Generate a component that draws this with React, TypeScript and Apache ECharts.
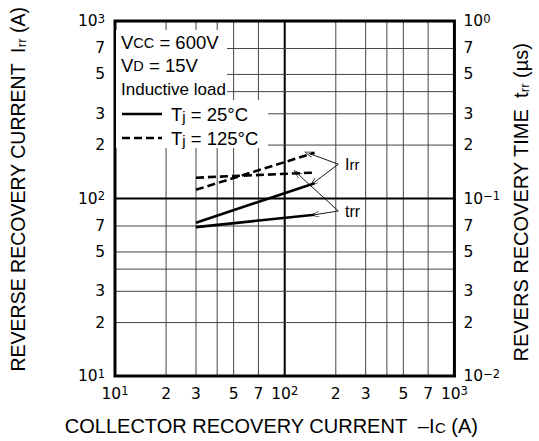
import React, { useEffect, useRef } from "react";
import * as echarts from "echarts";

// ---- data ----
const collectorCurrent = [30, 150]; // -Ic (A)
const irr25 = [73, 122]; // Irr (A), Tj = 25°C
const irr125 = [112, 181]; // Irr (A), Tj = 125°C
const trr25 = [0.069, 0.081]; // trr (µs), Tj = 25°C
const trr125 = [0.131, 0.14]; // trr (µs), Tj = 125°C

const xTicks = [10, 20, 30, 50, 70, 100, 200, 300, 500, 700, 1000];
const yLeftTicks = [10, 20, 30, 50, 70, 100, 200, 300, 500, 700, 1000];
const yRightTicks = [0.01, 0.02, 0.03, 0.05, 0.07, 0.1, 0.2, 0.3, 0.5, 0.7, 1];
const gridValues = [20, 30, 40, 50, 70, 100, 200, 300, 400, 500, 700];
const majorGrid = [100];
const axisRange = [10, 1000];

// annotation anchor points (data coordinates)
const irrLabelPt = [207, 156];
const irrArrowTargets = [
  [138, 180],
  [147, 122],
];
const trrLabelPt = [207, 0.085];
const trrArrowTargets = [
  [118, 0.139],
  [150, 0.081],
];

const FONT = "'Liberation Sans', Arial, Helvetica, sans-serif";
const NUMFONT = "'DejaVu Sans', 'Liberation Sans', sans-serif";

function tickLabel(v: number): string {
  const e = Math.log10(v);
  const r = Math.round(e);
  if (Math.abs(e - r) < 1e-6) {
    const s = r < 0 ? "\u2212" + Math.abs(r) : String(r);
    return "{n|10}{s|" + s + "}";
  }
  const m = Math.round(v / Math.pow(10, Math.floor(e)));
  return "{n|" + m + "}";
}

const richTick = {
  n: { fontSize: 15.5, lineHeight: 17, fontFamily: NUMFONT, color: "#000" },
  s: {
    fontSize: 11.5,
    lineHeight: 11,
    verticalAlign: "top" as const,
    fontFamily: NUMFONT,
    color: "#000",
  },
};

const CHEVRON = "path://M5,0 L10,14 L9,14.6 L5,2.6 L1,14.6 L0,14 Z";

export default function App() {
  const ref = useRef<HTMLDivElement>(null);

  useEffect(() => {
    if (!ref.current) return;
    const chart = echarts.init(ref.current, undefined, { renderer: "svg" });

    const gridStyle = (v: number) =>
      majorGrid.indexOf(v) >= 0
        ? { stroke: "#000", lineWidth: 2 }
        : { stroke: "#444", lineWidth: 1 };

    const arrowStyle = { color: "#000", width: 0.9, type: "solid" as const };
    const irrArrows = irrArrowTargets.map((t) => [
      { coord: irrLabelPt, symbol: "none" },
      { coord: t, symbol: CHEVRON, symbolSize: [6, 9] },
    ]);
    const trrArrows = trrArrowTargets.map((t) => [
      { coord: trrLabelPt, symbol: "none" },
      { coord: t, symbol: CHEVRON, symbolSize: [6, 9] },
    ]);

    const pairs = (ys: number[]) => collectorCurrent.map((x, i) => [x, ys[i]]);
    const gridData = gridValues.map((v) => [v, v]);

    const option: any = {
      animation: false,
      backgroundColor: "#fff",
      textStyle: { fontFamily: FONT },
      grid: {
        left: 110,
        right: 75,
        top: 21,
        bottom: 65,
        show: true,
        borderColor: "#000",
        borderWidth: 3,
        backgroundColor: "transparent",
        z: 10,
      },
      xAxis: {
        type: "log",
        logBase: 10,
        min: 10,
        max: 1000,
        axisLine: { show: false },
        axisTick: { show: false },
        splitLine: { show: false },
        minorTick: { show: false },
        axisLabel: {
          customValues: xTicks,
          formatter: (v: number) => tickLabel(v),
          rich: richTick,
          margin: 9,
          hideOverlap: false,
        },
        name: "{t|COLLECTOR RECOVERY CURRENT  \u2013I}{sc|C}{t| (A)}",
        nameLocation: "middle",
        nameGap: 40,
        nameTextStyle: {
          padding: [0, 27, 0, 0],
          rich: {
            t: { fontSize: 20, fontFamily: FONT, color: "#000", verticalAlign: "bottom" },
            sc: { fontSize: 15, fontFamily: FONT, color: "#000", verticalAlign: "bottom", padding: [0, 0, 1, 0] },
          },
        },
      },
      yAxis: [
        {
          type: "log",
          logBase: 10,
          min: 10,
          max: 1000,
          position: "left",
          axisLine: { show: false },
          axisTick: { show: false },
          splitLine: { show: false },
          axisLabel: {
            customValues: yLeftTicks,
            formatter: (v: number) => tickLabel(v),
            rich: richTick,
            margin: 10,
            hideOverlap: false,
          },
          name: "{t|REVERSE RECOVERY CURRENT  I}{s|rr}{t| (A)}",
          nameLocation: "middle",
          nameRotate: 90,
          nameGap: 87,
          nameTextStyle: {
            padding: [0, 0, 0, 18],
            rich: {
              t: { fontSize: 19.5, fontFamily: FONT, color: "#000", verticalAlign: "bottom" },
              s: { fontSize: 13, fontFamily: FONT, color: "#000", verticalAlign: "bottom" },
            },
          },
        },
        {
          type: "log",
          logBase: 10,
          min: 0.01,
          max: 1,
          position: "right",
          axisLine: { show: false },
          axisTick: { show: false },
          splitLine: { show: false },
          axisLabel: {
            customValues: yRightTicks,
            formatter: (v: number) => tickLabel(v),
            rich: richTick,
            margin: 9,
            hideOverlap: false,
          },
          name: "{t|REVERS RECOVERY TIME  t}{s|rr}{t| (\u00b5s)}",
          nameLocation: "middle",
          nameRotate: 90,
          nameGap: 55,
          nameTextStyle: {
            padding: [0, 8, 0, 0],
            rich: {
              t: { fontSize: 20, fontFamily: FONT, color: "#000", verticalAlign: "bottom" },
              s: { fontSize: 13, fontFamily: FONT, color: "#000", verticalAlign: "bottom" },
            },
          },
        },
      ],
      series: [
        {
          name: "grid-v",
          type: "custom",
          yAxisIndex: 0,
          data: gridData,
          z: 1,
          silent: true,
          clip: false,
          renderItem: (params: any, api: any) => {
            const v = api.value(0);
            const p1 = api.coord([v, axisRange[0]]);
            const p2 = api.coord([v, axisRange[1]]);
            return {
              type: "line",
              shape: { x1: p1[0], y1: p1[1], x2: p2[0], y2: p2[1] },
              style: gridStyle(v),
            };
          },
        },
        {
          name: "grid-h",
          type: "custom",
          yAxisIndex: 0,
          data: gridData,
          z: 1,
          silent: true,
          clip: false,
          renderItem: (params: any, api: any) => {
            const v = api.value(1);
            const p1 = api.coord([axisRange[0], v]);
            const p2 = api.coord([axisRange[1], v]);
            return {
              type: "line",
              shape: { x1: p1[0], y1: p1[1], x2: p2[0], y2: p2[1] },
              style: gridStyle(v),
            };
          },
        },
        {
          name: "Irr 25",
          type: "line",
          yAxisIndex: 0,
          data: pairs(irr25),
          symbol: "none",
          lineStyle: { color: "#000", width: 2.6, type: "solid" },
          z: 5,
          markLine: {
            silent: true,
            label: { show: false },
            lineStyle: arrowStyle,
            data: irrArrows,
          },
        },
        {
          name: "Irr 125",
          type: "line",
          yAxisIndex: 0,
          data: pairs(irr125),
          symbol: "none",
          lineStyle: { color: "#000", width: 2.6, type: [8, 4] },
          z: 5,
        },
        {
          name: "trr 25",
          type: "line",
          yAxisIndex: 1,
          data: pairs(trr25),
          symbol: "none",
          lineStyle: { color: "#000", width: 2.6, type: "solid" },
          z: 5,
          markLine: {
            silent: true,
            label: { show: false },
            lineStyle: arrowStyle,
            data: trrArrows,
          },
        },
        {
          name: "trr 125",
          type: "line",
          yAxisIndex: 1,
          data: pairs(trr125),
          symbol: "none",
          lineStyle: { color: "#000", width: 2.6, type: [8, 4] },
          z: 5,
        },
      ],
      graphic: [
        { type: "rect", z: 50, shape: { x: 116, y: 30, width: 111, height: 70 }, style: { fill: "#fff" } },
        { type: "rect", z: 50, shape: { x: 116, y: 100, width: 152, height: 48 }, style: { fill: "#fff" } },
        {
          type: "text",
          z: 60,
          x: 121,
          y: 42,
          style: {
            text: "{b|V}{c|CC}{b| = 600V}",
            verticalAlign: "middle",
            rich: {
              b: { fontSize: 18.5, fontFamily: FONT, fill: "#000", verticalAlign: "bottom" },
              c: { fontSize: 14.5, fontFamily: FONT, fill: "#000", verticalAlign: "bottom", padding: [0, 0, 1, 0] },
            },
          },
        },
        {
          type: "text",
          z: 60,
          x: 121,
          y: 65,
          style: {
            text: "{b|V}{c|D}{b| = 15V}",
            verticalAlign: "middle",
            rich: {
              b: { fontSize: 18.5, fontFamily: FONT, fill: "#000", verticalAlign: "bottom" },
              c: { fontSize: 14.5, fontFamily: FONT, fill: "#000", verticalAlign: "bottom", padding: [0, 0, 1, 0] },
            },
          },
        },
        {
          type: "text",
          z: 60,
          x: 121,
          y: 89,
          style: { text: "Inductive load", fontSize: 17, fontFamily: FONT, fill: "#000", verticalAlign: "middle" },
        },
        {
          type: "line",
          z: 60,
          shape: { x1: 122, y1: 114, x2: 162, y2: 114 },
          style: { stroke: "#000", lineWidth: 2.6 },
        },
        {
          type: "text",
          z: 60,
          x: 171,
          y: 114,
          style: {
            text: "{b|T}{c|j}{b| = 25\u00b0C}",
            verticalAlign: "middle",
            rich: {
              b: { fontSize: 18.5, fontFamily: FONT, fill: "#000", verticalAlign: "bottom" },
              c: { fontSize: 15, fontFamily: FONT, fill: "#000", verticalAlign: "bottom" },
            },
          },
        },
        {
          type: "line",
          z: 60,
          shape: { x1: 122, y1: 138, x2: 162, y2: 138 },
          style: { stroke: "#000", lineWidth: 2.6, lineDash: [8, 4] },
        },
        {
          type: "text",
          z: 60,
          x: 171,
          y: 138,
          style: {
            text: "{b|T}{c|j}{b| = 125\u00b0C}",
            verticalAlign: "middle",
            rich: {
              b: { fontSize: 18.5, fontFamily: FONT, fill: "#000", verticalAlign: "bottom" },
              c: { fontSize: 15, fontFamily: FONT, fill: "#000", verticalAlign: "bottom" },
            },
          },
        },
        {
          type: "text",
          z: 60,
          x: 345,
          y: 164,
          style: {
            text: "{b|I}{c|rr}",
            verticalAlign: "middle",
            rich: {
              b: { fontSize: 16, fontFamily: FONT, fill: "#000", verticalAlign: "bottom" },
              c: { fontSize: 15, fontFamily: FONT, fill: "#000", verticalAlign: "bottom" },
            },
          },
        },
        {
          type: "text",
          z: 60,
          x: 345,
          y: 211,
          style: {
            text: "{c|trr}",
            verticalAlign: "middle",
            rich: {
              c: { fontSize: 16, fontFamily: FONT, fill: "#000", verticalAlign: "bottom" },
            },
          },
        },
      ],
    };

    chart.setOption(option);
    return () => chart.dispose();
  }, []);

  return <div ref={ref} style={{ width: 539, height: 441, position: "absolute", left: 0, top: 0 }} />;
}
